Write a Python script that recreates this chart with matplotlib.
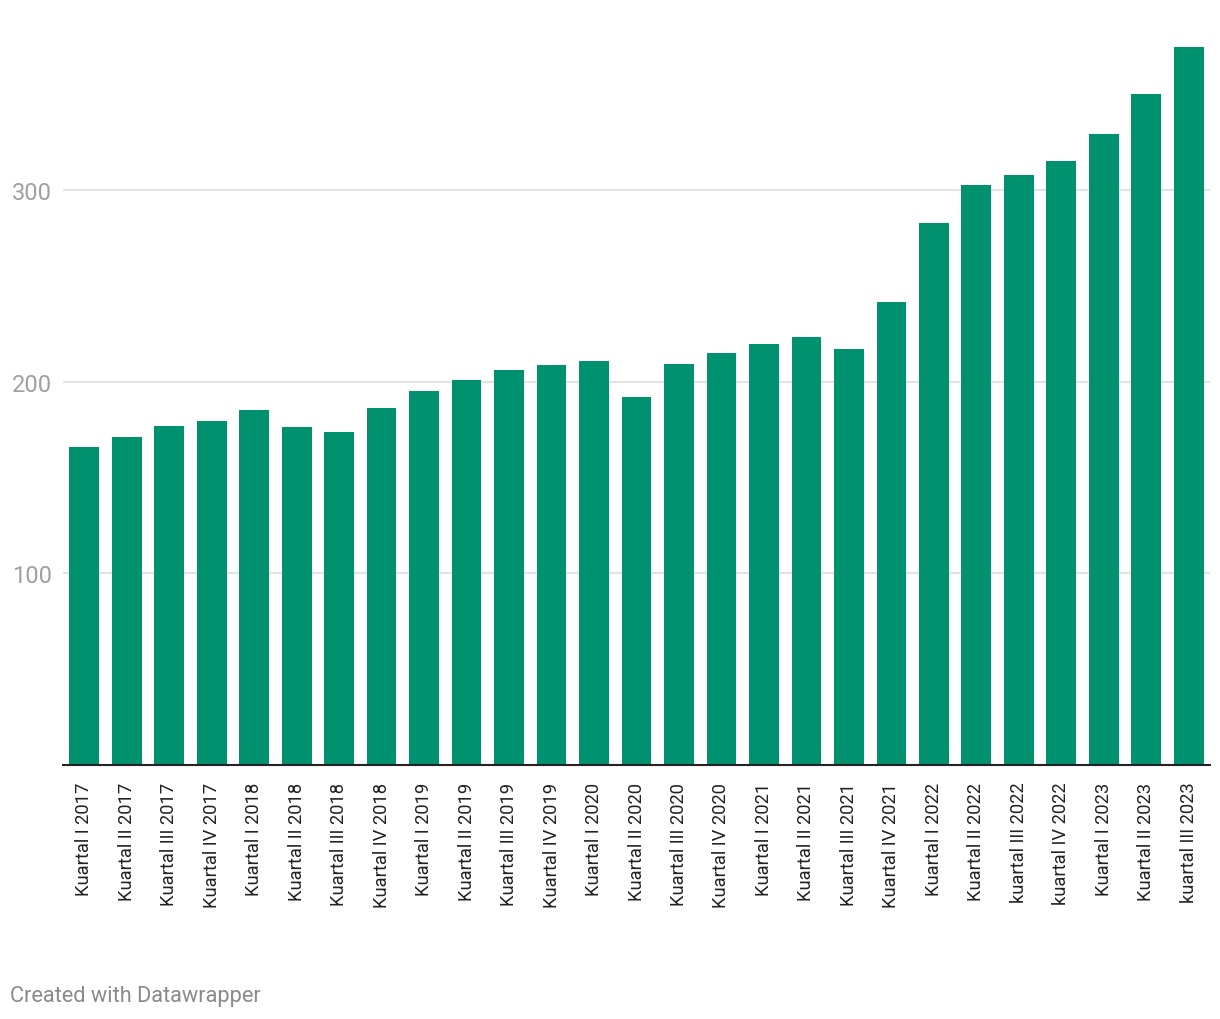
import matplotlib
matplotlib.use("Agg")
import matplotlib.pyplot as plt

plt.rcParams["font.family"] = ["Roboto", "DejaVu Sans"]

quarters = [
    "Kuartal I 2017", "Kuartal II 2017", "Kuartal III 2017", "Kuartal IV 2017",
    "Kuartal I 2018", "Kuartal II 2018", "Kuartal III 2018", "Kuartal IV 2018",
    "Kuartal I 2019", "Kuartal II 2019", "Kuartal III 2019", "Kuartal IV 2019",
    "Kuartal I 2020", "Kuartal II 2020", "Kuartal III 2020", "Kuartal IV 2020",
    "Kuartal I 2021", "Kuartal II 2021", "Kuartal III 2021", "Kuartal IV 2021",
    "Kuartal I 2022", "Kuartal II 2022", "kuartal III 2022", "kuartal IV 2022",
    "Kuartal I 2023", "Kuartal II 2023", "kuartal III 2023",
]
values = [
    165.9, 171.1, 176.8, 179.4,
    185.2, 176.3, 173.7, 186.2,
    195.1, 200.8, 206.1, 208.7,
    210.7, 192.0, 209.2, 214.9,
    219.6, 223.3, 217.0, 241.5,
    282.7, 302.6, 307.8, 315.1,
    329.2, 350.0, 374.5,
]
y_ticks = [100, 200, 300]

BAR = "#00916f"

fig = plt.figure(figsize=(12.2, 10.2), dpi=100)
ax = fig.add_axes([63 / 1220, 1 - 766 / 1020, (1210 - 63) / 1220, (766 - 30) / 1020])

x = range(len(values))
ax.bar(x, values, width=0.70, color=BAR, zorder=2)

ax.set_xlim(-0.5, len(values) - 0.5)
ax.set_ylim(0, 384)

ax.set_yticks(y_ticks)
ax.set_yticklabels([str(t) for t in y_ticks])
ax.yaxis.grid(True, color="#e3e3e3", lw=1.5, zorder=0)
ax.tick_params(axis="y", length=0, labelsize=17, labelcolor="#a0a0a0", pad=8)

ax.set_xticks(list(x))
ax.set_xticklabels(quarters, rotation=90, va="top", ha="center")
ax.tick_params(axis="x", length=0, labelsize=13.2, labelcolor="#222222", pad=12)

for s in ["top", "right", "left"]:
    ax.spines[s].set_visible(False)
ax.spines["bottom"].set_color("#222222")
ax.spines["bottom"].set_linewidth(1.5)
ax.spines["bottom"].set_zorder(3)

fig.text(10 / 1220, 1 - 997 / 1020, "Created with Datawrapper", fontsize=15.7,
         color="#8a8a8a", ha="left", va="center")

fig.savefig("out.png", dpi=100, facecolor="white")
